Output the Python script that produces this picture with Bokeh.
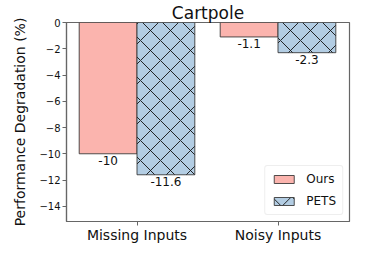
from bokeh.plotting import figure
from bokeh.models import Range1d, FixedTicker, ColumnDataSource, Legend, LegendItem
from bokeh.embed import file_html
from bokeh.resources import INLINE
from bokeh.core.properties import value

title = "Cartpole"
categories = ["Missing Inputs", "Noisy Inputs"]
ours = [-10, -1.1]
pets = [-11.6, -2.3]
ours_labels = ["-10", "-1.1"]
pets_labels = ["-11.6", "-2.3"]
yticks = [0, -2, -4, -6, -8, -10, -12, -14]
ylabel = "Performance Degradation (%)"

FONT = "DejaVu Sans"
W = 0.41
pos = list(range(len(categories)))

p = figure(width=351, height=245, output_backend="svg", toolbar_location=None,
           x_range=Range1d(-0.5, 1.507), y_range=Range1d(-15.16, 0),
           min_border_left=66, min_border_right=2, min_border_top=0, min_border_bottom=0)
p.title.text = title
p.title.align = "center"
p.title.text_font = FONT
p.title.text_font_size = "17px"
p.title.text_font_style = "normal"
p.title.text_color = "#111111"
p.title.standoff = 0

src_o = ColumnDataSource(dict(x=[i - W / 2 for i in pos], top=[0] * len(pos), bottom=ours, lab=ours_labels))
src_p = ColumnDataSource(dict(x=[i + W / 2 for i in pos], top=[0] * len(pos), bottom=pets, lab=pets_labels))

r_o = p.vbar(x="x", width=W, top="top", bottom="bottom", source=src_o,
             fill_color="#FBB4AE", line_color="#333333", line_alpha=0.85, line_width=1)
r_p = p.vbar(x="x", width=W, top="top", bottom="bottom", source=src_p,
             fill_color="#B3CDE3", line_color="#333333", line_alpha=0.85, line_width=1,
             hatch_pattern="diagonal_cross", hatch_scale=20, hatch_color="#111111",
             hatch_weight=0.9)

for s in (src_o, src_p):
    p.text(x="x", y="bottom", text="lab", source=s, text_align="center",
           text_baseline="top", y_offset=2, text_font=value(FONT),
           text_font_size="12px", text_color="#111111")

p.xgrid.visible = False
p.ygrid.visible = False
p.outline_line_color = "#666666"
p.outline_line_width = 1.2

p.xaxis.ticker = FixedTicker(ticks=pos)
p.xaxis.major_label_overrides = {i: c for i, c in zip(pos, categories)}
p.yaxis.ticker = FixedTicker(ticks=yticks)
p.yaxis.major_label_overrides = {t: ("0" if t == 0 else "\u2212" + str(abs(t))) for t in yticks}
p.yaxis.axis_label = ylabel

for ax in (p.xaxis, p.yaxis):
    ax.axis_line_color = "#666666"
    ax.axis_line_width = 1.2
    ax.major_tick_line_color = "#666666"
    ax.major_tick_in = 0
    ax.major_tick_out = 4
    ax.minor_tick_line_color = None
    ax.major_label_text_font = FONT
    ax.major_label_text_color = "#111111"
    ax.axis_label_text_font = FONT
    ax.axis_label_text_font_style = "normal"
    ax.axis_label_text_color = "#111111"
    ax.axis_label_text_font_size = "14px"

p.xaxis.major_label_text_font_size = "14px"
p.xaxis.major_label_standoff = 1
p.yaxis.major_label_text_font_size = "10px"
p.yaxis.major_label_standoff = 2
p.yaxis.axis_label_standoff = 8

legend = Legend(items=[LegendItem(label="Ours", renderers=[r_o]),
                       LegendItem(label="PETS", renderers=[r_p])],
                location="bottom_right")
legend.label_text_font = FONT
legend.label_text_font_size = "12px"
legend.label_text_color = "#111111"
legend.border_line_color = "#dddddd"
legend.border_line_width = 1
legend.border_radius = 3
legend.background_fill_alpha = 0.9
legend.glyph_width = 25
legend.glyph_height = 10
legend.spacing = 8
legend.padding = 6
legend.margin = 6
legend.label_standoff = 10
p.add_layout(legend)

open("out.html", "w").write(file_html(p, INLINE))
